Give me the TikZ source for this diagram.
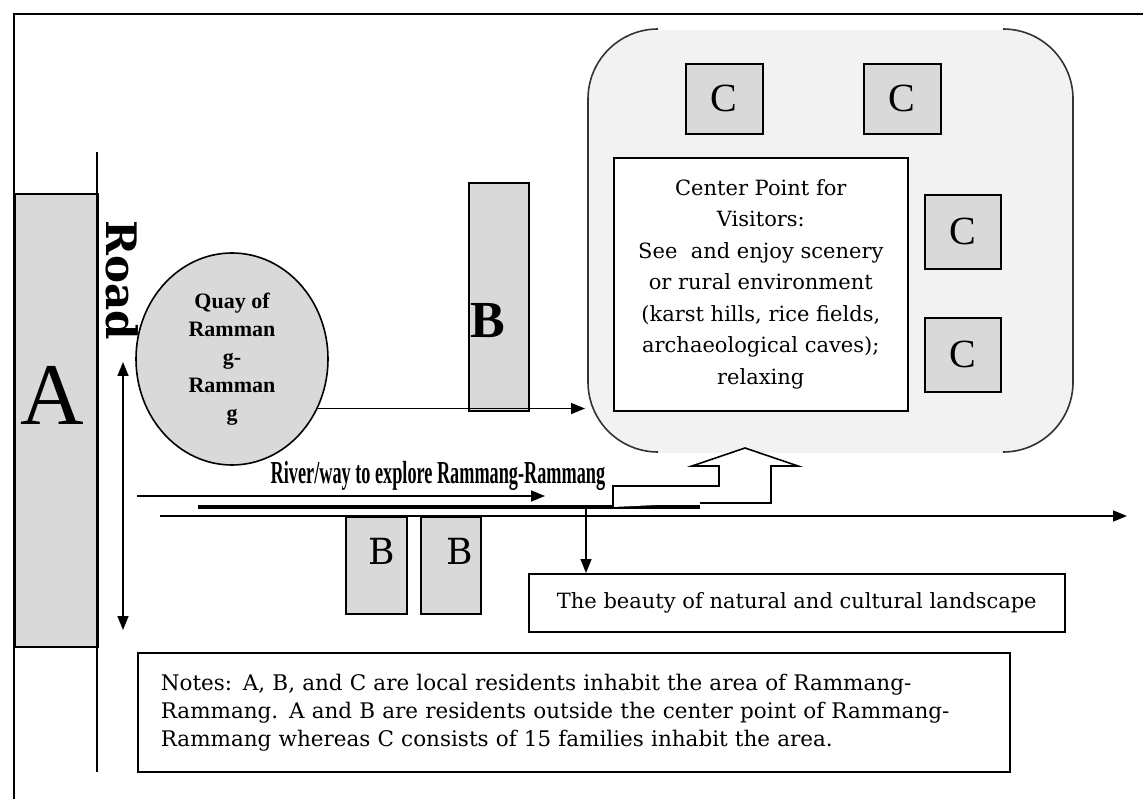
\documentclass[tikz,border=0pt]{standalone}
\usepackage{fontspec}
\setmainfont{DejaVu Serif}
\newfontfamily\timesfont{Liberation Serif}
\usepackage{tikz}
\usetikzlibrary{arrows.meta}
\usetikzlibrary{shapes.geometric}

\begin{document}
\begin{tikzpicture}[x=1pt, y=-1pt, line width=1.6pt,
    >={Triangle[length=14pt, width=11pt]},
    house/.style={draw, fill=black!15, inner sep=0pt},
    txtbox/.style={draw, fill=white, inner sep=0pt, align=center}]
    \useasboundingbox (0,0) rectangle (1143,799);
    \draw[line width=2.4pt] (14,799) -- (14,14) -- (1143,14);

    \node[house, anchor=north west, minimum width=83, minimum height=453] (blockA) at (14,193) {};
    \node[font=\timesfont\fontsize{88}{88}\selectfont] (letterA) at (52,395) {A};

    \coordinate (roadtop) at (97,152);
    \coordinate (roadbot) at (97,772);
    \draw (roadtop) -- (roadbot);
    \node[rotate=-90, font=\bfseries\fontsize{42}{42}\selectfont] (road) at (122,280) {Road};

    \coordinate (walktop) at (123,362);
    \coordinate (walkbot) at (123,630);
    \draw[<->] (walktop) -- (walkbot);

    \node[ellipse, draw, fill=black!15, minimum width=192, minimum height=212, inner sep=0pt, align=center,
      font=\timesfont\bfseries\fontsize{22}{28}\selectfont] (quay) at (232,359)
      {Quay of\\Ramman\\g-\\Ramman\\g};

    \node[house, anchor=north west, minimum width=60, minimum height=228] (tallB) at (468,182) {};
    \node[font=\timesfont\bfseries\fontsize{52}{52}\selectfont] (tallBtext) at (488,321) {B};
    \coordinate (quaytip) at (585,410);
    \draw[->] (quay.-30) -- (quay.-30 -| quaytip);

    \node[fill=black!5, rounded corners=70pt, anchor=north west, minimum width=485, minimum height=423, inner sep=0pt] (site) at (588,29) {};
    \draw[black!80, rounded corners=70pt] (658,29) -- (588,29) -- (588,452) -- (658,452);
    \draw[black!80, rounded corners=70pt] (1003,29) -- (1073,29) -- (1073,452) -- (1003,452);

    \node[house, anchor=north west, minimum width=77, minimum height=70, font=\timesfont\fontsize{40}{40}\selectfont] (c1) at (685,63) {C};
    \node[house, anchor=north west, minimum width=77, minimum height=70, font=\timesfont\fontsize{40}{40}\selectfont] (c2) at (863,63) {C};
    \node[house, anchor=north west, minimum width=76, minimum height=74, font=\timesfont\fontsize{40}{40}\selectfont] (c3) at (924,194) {C};
    \node[house, anchor=north west, minimum width=76, minimum height=74, font=\timesfont\fontsize{40}{40}\selectfont] (c4) at (924,317) {C};

    \node[txtbox, anchor=north west, minimum width=294, minimum height=253, font=\fontsize{21}{31.5}\selectfont] (visitor) at (613,157)
      {Center Point for\\Visitors:\\See~ and enjoy scenery\\or rural environment\\(karst hills, rice fields,\\archaeological caves);\\relaxing};

    \coordinate (flowstart) at (137,496);
    \coordinate (flowtip) at (545,496);
    \draw[->] (flowstart) -- (flowtip);
    \coordinate (riverwest) at (198,507);
    \coordinate (rivereast) at (700,507);
    \draw[line width=4.5pt] (riverwest) -- (rivereast);
    \coordinate (waywest) at (160,516);
    \coordinate (wayeast) at (1127,516);
    \draw[->] (waywest) -- (wayeast);
    \node[anchor=base, font=\timesfont\bfseries\fontsize{32}{32}\selectfont] (rivername) at (438,483)
      {\scalebox{0.57}[1]{River/way to explore Rammang-Rammang}};

    \draw[fill=white, line join=miter] (613,507) -- (613,486) -- (719,486) -- (719,466) -- (692,466) -- (745,448)
      -- (798,466) -- (771,466) -- (771,503) -- (700,503);

    \node[house, anchor=north west, minimum width=61, minimum height=97] (lowB1) at (345,516) {};
    \node[house, anchor=north west, minimum width=60, minimum height=97] (lowB2) at (420,516) {};
    \node[font=\fontsize{36}{36}\selectfont] (lowB1text) at (382,551) {B};
    \node[font=\fontsize{36}{36}\selectfont] (lowB2text) at (460,551) {B};

    \node[txtbox, anchor=north west, minimum width=536, minimum height=58, font=\fontsize{21}{21}\selectfont] (beauty) at (528,573)
      {The beauty of natural and cultural landscape};
    \coordinate (dropfrom) at (586,507);
    \draw[->] (dropfrom) -- (beauty.north -| dropfrom);

    \node[draw, anchor=north west, text width=826, inner xsep=23, inner ysep=0, minimum height=119, align=left,
      font=\fontsize{21.5}{28}\selectfont] (notes) at (137,652)
      {Notes: A, B, and C are local residents inhabit the area of Rammang-\\Rammang. A and B are residents outside the center point of Rammang-\\Rammang whereas C consists of 15 families inhabit the area.};
  \end{tikzpicture}
\end{document}
